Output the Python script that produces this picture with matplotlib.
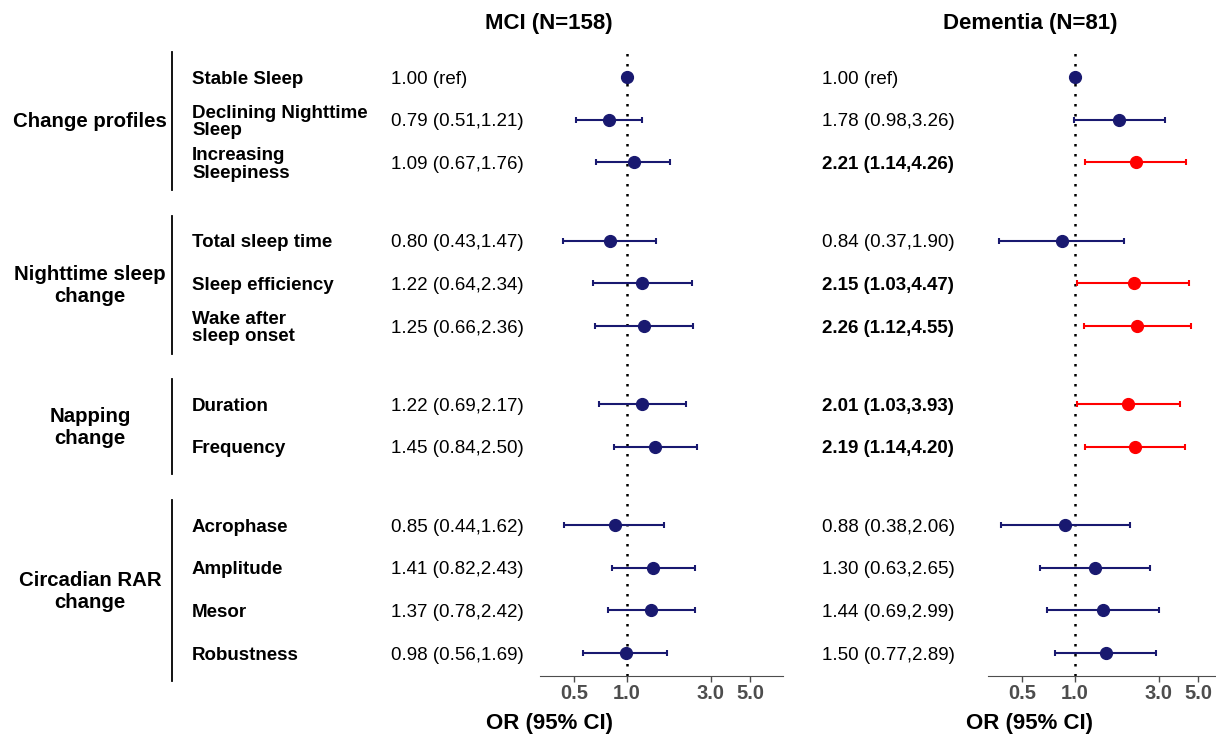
import numpy as np
import matplotlib.pyplot as plt
import matplotlib.transforms as mtransforms
from matplotlib.lines import Line2D

plt.rcParams['font.family'] = ['Liberation Sans', 'DejaVu Sans']

groups = ['Change profiles', 'Nighttime sleep\nchange', 'Napping\nchange', 'Circadian RAR\nchange']
group_sizes = [3, 3, 2, 4]
labels = ['Stable Sleep', 'Declining Nighttime\nSleep', 'Increasing\nSleepiness',
          'Total sleep time', 'Sleep efficiency', 'Wake after\nsleep onset',
          'Duration', 'Frequency',
          'Acrophase', 'Amplitude', 'Mesor', 'Robustness']

mci_or = [1.00, 0.79, 1.09, 0.80, 1.22, 1.25, 1.22, 1.45, 0.85, 1.41, 1.37, 0.98]
mci_lo = [np.nan, 0.51, 0.67, 0.43, 0.64, 0.66, 0.69, 0.84, 0.44, 0.82, 0.78, 0.56]
mci_hi = [np.nan, 1.21, 1.76, 1.47, 2.34, 2.36, 2.17, 2.50, 1.62, 2.43, 2.42, 1.69]

dem_or = [1.00, 1.78, 2.21, 0.84, 2.15, 2.26, 2.01, 2.19, 0.88, 1.30, 1.44, 1.50]
dem_lo = [np.nan, 0.98, 1.14, 0.37, 1.03, 1.12, 1.03, 1.14, 0.38, 0.63, 0.69, 0.77]
dem_hi = [np.nan, 3.26, 4.26, 1.90, 4.47, 4.55, 3.93, 4.20, 2.06, 2.65, 2.99, 2.89]

ticks = [0.5, 1.0, 3.0, 5.0]
navy = '#191970'
red = '#FF0000'
grey = '#4D4D4D'

# row positions, with a gap between groups
ypos = []
y = 0.0
for n in group_sizes:
    for i in range(n):
        ypos.append(y)
        y += 1
    y += 0.83
ypos = np.array(ypos)

W, H = 1216, 736
fig = plt.figure(figsize=(W / 100, H / 100), dpi=100)

def px(x0, y0, w, h):
    return [x0 / W, 1 - (y0 + h) / H, w / W, h / H]

ax1 = fig.add_axes(px(540, 48, 243, 628))
ax2 = fig.add_axes(px(988, 48, 243, 628))


def draw_panel(ax, ors, los, his, txt_x):
    tr = mtransforms.blended_transform_factory(fig.transFigure, ax.transData)
    for i in range(len(ors)):
        sig = not np.isnan(los[i]) and los[i] > 1
        c = red if sig else navy
        if not np.isnan(los[i]):
            ax.errorbar(ors[i], ypos[i], xerr=[[ors[i] - los[i]], [his[i] - ors[i]]],
                        fmt='none', ecolor=c, elinewidth=1.5, capsize=2.5, capthick=1.5, zorder=2)
        ax.plot(ors[i], ypos[i], 'o', color=c, markersize=8.5, zorder=3)
        if np.isnan(los[i]):
            s = '%.2f (ref)' % ors[i]
        else:
            s = '%.2f (%.2f,%.2f)' % (ors[i], los[i], his[i])
        fig.text(txt_x / W, ypos[i] + 0.05, s, transform=tr, ha='left', va='center',
                 fontsize=13.5, fontweight='bold' if sig else 'normal', color='black')
    ax.axvline(1.0, color='black', linestyle=(0, (1, 3)), linewidth=1.8, zorder=1)
    ax.set_xscale('log')
    ax.set_xlim(0.32, 7.7)
    ax.set_ylim(14.03, -0.68)
    ax.set_xticks(ticks)
    ax.set_xticklabels(['%.1f' % t for t in ticks])
    ax.minorticks_off()
    ax.tick_params(axis='x', colors=grey, labelsize=14.5, length=4, width=1, pad=2)
    for lab in ax.get_xticklabels():
        lab.set_fontweight('bold')
    ax.set_yticks([])
    for sp in ['top', 'left', 'right']:
        ax.spines[sp].set_visible(False)
    ax.spines['bottom'].set_color(grey)
    ax.patch.set_alpha(0)


draw_panel(ax1, mci_or, mci_lo, mci_hi, 391)
draw_panel(ax2, dem_or, dem_lo, dem_hi, 822)

fig.text(549 / W, 1 - 23 / H, 'MCI (N=158)', ha='center', va='center', fontsize=16, fontweight='bold')
fig.text(1030 / W, 1 - 23 / H, 'Dementia (N=81)', ha='center', va='center', fontsize=16, fontweight='bold')
fig.text(549 / W, 1 - 723 / H, 'OR (95% CI)', ha='center', va='center', fontsize=16, fontweight='bold')
fig.text(1030 / W, 1 - 723 / H, 'OR (95% CI)', ha='center', va='center', fontsize=16, fontweight='bold')

# row labels, group labels and brackets
tr = mtransforms.blended_transform_factory(fig.transFigure, ax1.transData)
for i, lab in enumerate(labels):
    fig.text(192 / W, ypos[i] + 0.05, lab, transform=tr, ha='left', va='center',
             fontsize=13.5, fontweight='bold', linespacing=1.05)

start = 0
for g, n in zip(groups, group_sizes):
    y0 = ypos[start] - 0.58
    y1 = ypos[start + n - 1] + 0.65
    fig.add_artist(Line2D([172 / W, 172 / W], [y0, y1], transform=tr, color='black', linewidth=1.3))
    fig.text(90 / W, (ypos[start] + ypos[start + n - 1]) / 2 + 0.05, g, transform=tr, ha='center',
             va='center', fontsize=14.7, fontweight='bold', linespacing=1.2)
    start += n

fig.savefig('out.png', dpi=100)
